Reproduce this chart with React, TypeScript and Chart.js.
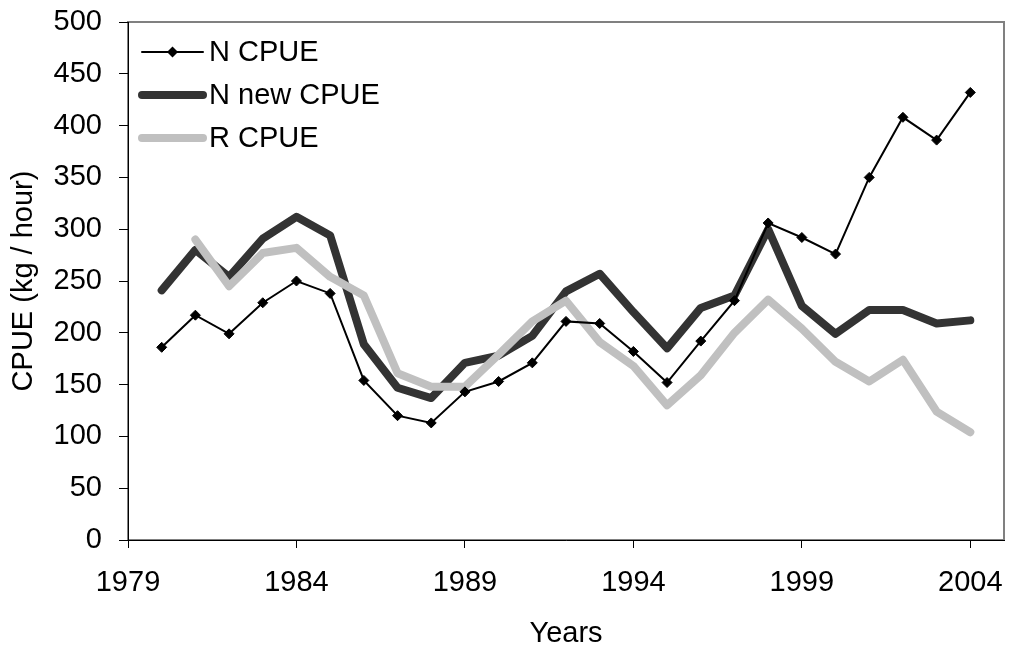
import React, { useEffect, useRef } from "react";
import { Chart, registerables } from "chart.js";

Chart.register(...registerables);

const years = [1980, 1981, 1982, 1983, 1984, 1985, 1986, 1987, 1988, 1989, 1990, 1991, 1992, 1993, 1994, 1995, 1996, 1997, 1998, 1999, 2000, 2001, 2002, 2003, 2004];
const nCpue = [186, 217, 199, 229, 250, 238, 154, 120, 113, 143, 153, 171, 211, 209, 182, 152, 192, 231, 306, 292, 276, 350, 408, 386, 432];
const nNewCpue = [241, 280, 254, 291, 312, 294, 189, 147, 137, 171, 178, 197, 240, 257, 220, 185, 224, 236, 300, 226, 199, 222, 222, 209, 212];
const rYears = [1981, 1982, 1983, 1984, 1985, 1986, 1987, 1988, 1989, 1990, 1991, 1992, 1993, 1994, 1995, 1996, 1997, 1998, 1999, 2000, 2001, 2002, 2003, 2004];
const rCpue = [290, 245, 277, 282, 254, 236, 161, 148, 148, 179, 211, 231, 191, 168, 130, 159, 200, 232, 204, 172, 153, 174, 124, 104];
const xTickValues = [1979, 1984, 1989, 1994, 1999, 2004];
const seriesLabels = ["N CPUE", "N new CPUE", "R CPUE"];

const FONT = "'Liberation Sans', Arial, sans-serif";

const framePlugin = {
  id: "frame",
  beforeDraw(chart: any) {
    const { ctx, chartArea } = chart;
    ctx.save();
    ctx.strokeStyle = "#808080";
    ctx.lineWidth = 2;
    ctx.strokeRect(chartArea.left, chartArea.top, chartArea.right - chartArea.left, chartArea.bottom - chartArea.top);
    ctx.restore();
  },
};

const legendPlugin = {
  id: "insideLegend",
  afterDraw(chart: any) {
    const { ctx } = chart;
    const order = [0, 1, 2];
    ctx.save();
    order.forEach((i, k) => {
      const ds = chart.data.datasets[i];
      const y = 52 + k * 43;
      const x0 = 142;
      const x1 = 203;
      ctx.strokeStyle = ds.borderColor;
      ctx.lineWidth = ds.borderWidth;
      ctx.lineCap = "round";
      ctx.beginPath();
      ctx.moveTo(x0, y);
      ctx.lineTo(x1, y);
      ctx.stroke();
      if (ds.pointRadius > 0) {
        const cx = (x0 + x1) / 2;
        const r = ds.pointRadius + 0.5;
        ctx.fillStyle = ds.pointBackgroundColor;
        ctx.beginPath();
        ctx.moveTo(cx - r, y);
        ctx.lineTo(cx, y - r);
        ctx.lineTo(cx + r, y);
        ctx.lineTo(cx, y + r);
        ctx.closePath();
        ctx.fill();
      }
      ctx.fillStyle = "#000";
      ctx.font = `29px ${FONT}`;
      ctx.textBaseline = "middle";
      ctx.textAlign = "left";
      ctx.fillText(ds.label, 209, y + 1);
    });
    ctx.restore();
  },
};

export default function App() {
  const ref = useRef<HTMLCanvasElement | null>(null);
  useEffect(() => {
    document.body.style.margin = "0";
    const canvas = ref.current!;
    const chart = new Chart(canvas, {
      type: "line",
      data: {
        datasets: [
          {
            label: seriesLabels[0],
            data: years.map((x, i) => ({ x, y: nCpue[i] })),
            borderColor: "#000000",
            backgroundColor: "#000000",
            borderWidth: 2,
            pointStyle: "rectRot",
            pointRadius: 5,
            pointBackgroundColor: "#000000",
            pointBorderColor: "#000000",
            pointBorderWidth: 1,
            order: 0,
          },
          {
            label: seriesLabels[1],
            data: years.map((x, i) => ({ x, y: nNewCpue[i] })),
            borderColor: "#333333",
            backgroundColor: "#333333",
            borderWidth: 8,
            pointRadius: 0,
            borderCapStyle: "round",
            borderJoinStyle: "round",
            order: 2,
          },
          {
            label: seriesLabels[2],
            data: rYears.map((x, i) => ({ x, y: rCpue[i] })),
            borderColor: "#c0c0c0",
            backgroundColor: "#c0c0c0",
            borderWidth: 8,
            pointRadius: 0,
            borderCapStyle: "round",
            borderJoinStyle: "round",
            order: 1,
          },
        ],
      } as any,
      options: {
        animation: false,
        responsive: false,
        maintainAspectRatio: false,
        layout: { padding: { left: 0, top: 22, right: 4, bottom: 0 } },
        plugins: { legend: { display: false }, tooltip: { enabled: false } },
        elements: { line: { tension: 0 } },
        scales: {
          x: {
            type: "linear",
            min: 1979,
            max: 2005,
            afterBuildTicks: (scale: any) => {
              scale.ticks = xTickValues.map((v) => ({ value: v }));
            },
            afterFit: (scale: any) => {
              scale.height = 109;
              scale.paddingLeft = 0;
              scale.paddingRight = 0;
            },
            grid: { drawOnChartArea: false, drawTicks: true, tickLength: 8, tickColor: "#000", tickWidth: 1 },
            border: { display: true, color: "#000", width: 1 },
            ticks: {
              color: "#000",
              font: { family: FONT, size: 29 },
              padding: 18,
              maxRotation: 0,
              autoSkip: false,
              callback: (v: any) => String(v),
            },
            title: {
              display: true,
              text: "Years",
              color: "#000",
              font: { family: FONT, size: 29 },
              padding: { top: 0, bottom: -2 },
            },
          },
          y: {
            min: 0,
            max: 500,
            afterFit: (scale: any) => {
              scale.width = 128;
              scale.paddingTop = 0;
              scale.paddingBottom = 0;
            },
            grid: { drawOnChartArea: false, drawTicks: true, tickLength: 9, tickColor: "#000", tickWidth: 1 },
            border: { display: true, color: "#000", width: 1 },
            ticks: {
              stepSize: 50,
              color: "#000",
              font: { family: FONT, size: 29 },
              padding: 17,
            },
            title: {
              display: true,
              text: "CPUE (kg / hour)",
              color: "#000",
              font: { family: FONT, size: 29 },
              padding: { top: 7, bottom: 0 },
            },
          },
        },
      } as any,
      plugins: [framePlugin, legendPlugin],
    });
    return () => chart.destroy();
  }, []);
  return (
    <div style={{ width: 1010, height: 649 }}>
      <canvas ref={ref} width={1010} height={649} />
    </div>
  );
}
